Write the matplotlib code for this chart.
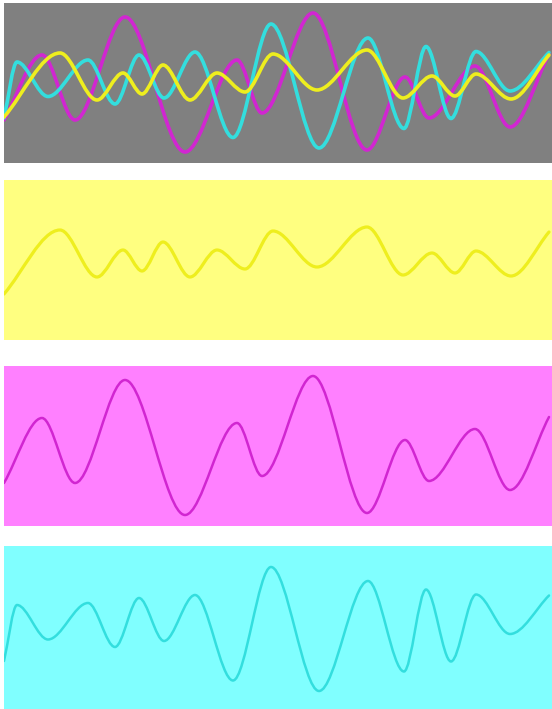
import matplotlib
matplotlib.use("Agg")
import matplotlib.pyplot as plt
from matplotlib.path import Path
from matplotlib.patches import PathPatch

# Turning points (peaks and troughs) of each signal, plus its first and last sample.
# t: horizontal position, amplitude in arbitrary units.
t_magenta = [0, 38, 71, 121, 181, 233, 258, 309, 363, 401, 425, 471, 506, 545]
a_magenta = [-0.37, 0.28, -0.37, 0.66, -0.69, 0.23, -0.30, 0.70, -0.67, 0.06,
             -0.35, 0.17, -0.44, 0.29]

t_yellow = [0, 56, 93, 119, 138, 159, 186, 213, 241, 269, 313, 363, 399, 428,
            451, 472, 507, 545]
a_yellow = [-0.34, 0.30, -0.17, 0.10, -0.11, 0.18, -0.17, 0.10, -0.09, 0.29,
            -0.07, 0.33, -0.15, 0.07, -0.13, 0.09, -0.16, 0.28]

t_cyan = [0, 13, 44, 84, 111, 135, 160, 191, 229, 267, 315, 364, 400, 422,
          447, 472, 506, 545]
a_cyan = [-0.35, 0.21, -0.135, 0.23, -0.21, 0.28, -0.15, 0.31, -0.545, 0.59,
          -0.65, 0.45, -0.455, 0.365, -0.355, 0.315, -0.08, 0.305]

LINE = {"magenta": "#d126d1", "yellow": "#eeee1e", "cyan": "#33dede"}
PANEL_BG = {"mix": "#808080", "yellow": "#ffff80", "magenta": "#ff80ff", "cyan": "#80ffff"}

W_PX, H_PX = 552, 709


def wave_path(t, a):
    """Smooth path through the turning points: flat tangents at peaks/troughs."""
    verts = [(t[0], a[0])]
    codes = [Path.MOVETO]
    n = len(t)
    for i in range(n - 1):
        t1, a1, t2, a2 = t[i], a[i], t[i + 1], a[i + 1]
        dt = (t2 - t1) / 3.0
        if i == 0:
            c1 = (t1 + dt, a1 + (a2 - a1) / 3.0)
        else:
            c1 = (t1 + dt, a1)
        if i == n - 2:
            c2 = (t2 - dt, a2 - (a2 - a1) / 3.0)
        else:
            c2 = (t2 - dt, a2)
        verts += [c1, c2, (t2, a2)]
        codes += [Path.CURVE4] * 3
    return Path(verts, codes)


def panel(fig, top_px, height_px, bg):
    ax = fig.add_axes([4 / W_PX, 1 - (top_px + height_px) / H_PX,
                       548 / W_PX, height_px / H_PX])
    ax.set_facecolor(bg)
    ax.set_xlim(0, 548)
    ax.set_ylim(0.8 - height_px / 100.0, 0.8)
    ax.set_xticks([])
    ax.set_yticks([])
    for s in ax.spines.values():
        s.set_visible(False)
    return ax


def draw(ax, t, a, color, lw):
    ax.add_patch(PathPatch(wave_path(t, a), facecolor="none", edgecolor=color,
                           lw=lw, capstyle="round", joinstyle="round"))


fig = plt.figure(figsize=(W_PX / 100, H_PX / 100), dpi=100, facecolor="white")

ax0 = panel(fig, 3, 160, PANEL_BG["mix"])
draw(ax0, t_magenta, a_magenta, LINE["magenta"], 2.6)
draw(ax0, t_cyan, a_cyan, LINE["cyan"], 2.6)
draw(ax0, t_yellow, a_yellow, LINE["yellow"], 2.6)

ax1 = panel(fig, 180, 160, PANEL_BG["yellow"])
draw(ax1, t_yellow, a_yellow, LINE["yellow"], 2.3)

ax2 = panel(fig, 366, 160, PANEL_BG["magenta"])
draw(ax2, t_magenta, a_magenta, LINE["magenta"], 1.8)

ax3 = panel(fig, 546, 163, PANEL_BG["cyan"])
draw(ax3, t_cyan, a_cyan, LINE["cyan"], 1.8)

fig.savefig("out.png", dpi=100, facecolor="white")
